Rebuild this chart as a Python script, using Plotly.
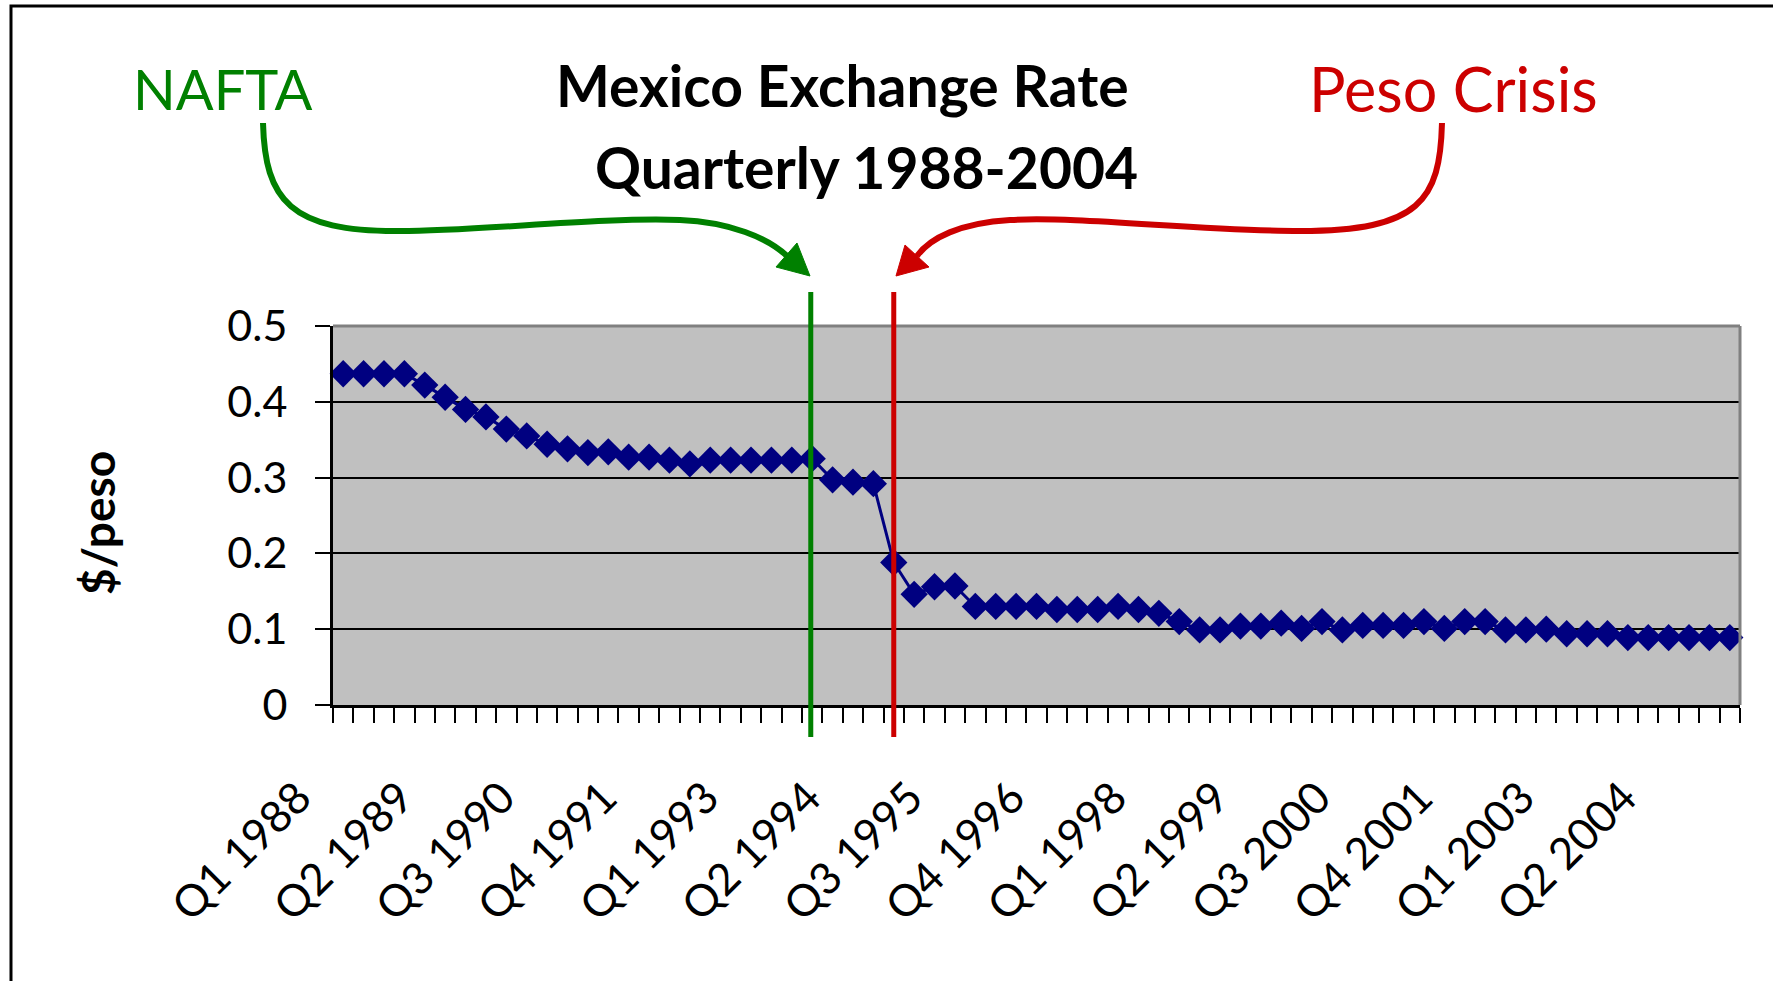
import plotly.graph_objects as go

# ---------------- data ----------------
QUARTERS = [f"Q{q} {y}" for y in range(1988, 2006) for q in range(1, 5)][:69]

RATES = [
    0.437, 0.437, 0.437, 0.437, 0.422, 0.406, 0.390, 0.380, 0.364, 0.355,
    0.344, 0.338, 0.333, 0.334, 0.327, 0.327, 0.323, 0.318, 0.323, 0.323,
    0.323, 0.323, 0.323, 0.325, 0.297, 0.294, 0.292, 0.188, 0.146, 0.156,
    0.157, 0.130, 0.130, 0.130, 0.130, 0.126, 0.126, 0.126, 0.130, 0.126,
    0.121, 0.110, 0.099, 0.099, 0.104, 0.104, 0.108, 0.101, 0.110, 0.099,
    0.105, 0.105, 0.105, 0.110, 0.101, 0.110, 0.110, 0.099, 0.099, 0.100,
    0.094, 0.094, 0.094, 0.089, 0.089, 0.089, 0.089, 0.089, 0.089,
]

TICK_LABELS = ["Q1 1988", "Q2 1989", "Q3 1990", "Q4 1991", "Q1 1993", "Q2 1994",
               "Q3 1995", "Q4 1996", "Q1 1998", "Q2 1999", "Q3 2000", "Q4 2001",
               "Q1 2003", "Q2 2004"]

NAFTA_Q = "Q4 1993"
CRISIS_Q = "Q4 1994"

# ---------------- layout geometry (pixels) ----------------
W, H = 1773, 981
PL, PR, PT, PB = 333, 1740, 326, 705


def fx(p):
    return (p - PL) / (PR - PL)


def fy(p):
    return (PB - p) / (PB - PT)


FONT = "Lato"
NAVY = "#000080"
GREEN = "#008000"
RED = "#CC0000"

ticktext = [q if q in TICK_LABELS else "" for q in QUARTERS]

fig = go.Figure()
fig.add_trace(go.Scatter(
    x=QUARTERS, y=RATES, mode="lines+markers",
    line=dict(color=NAVY, width=3),
    marker=dict(symbol="diamond", size=21, color=NAVY),
    showlegend=False, cliponaxis=False,
))

shapes = []
# plot-area top and right border (gray)
shapes.append(dict(type="line", xref="paper", yref="paper", x0=0, x1=1, y0=1, y1=1,
                   line=dict(color="#808080", width=3), layer="above"))
shapes.append(dict(type="line", xref="paper", yref="paper", x0=1, x1=1, y0=0, y1=1,
                   line=dict(color="#808080", width=3), layer="above"))

# event lines
nafta_i = QUARTERS.index(NAFTA_Q) - 0.07
crisis_i = QUARTERS.index(CRISIS_Q)
for xi, col in ((nafta_i, GREEN), (crisis_i, RED)):
    shapes.append(dict(type="line", xref="x", yref="paper", x0=xi, x1=xi,
                       y0=fy(737), y1=fy(292), line=dict(color=col, width=5), layer="above"))


def path(points_cmds):
    out = []
    for cmd, pts in points_cmds:
        coords = " ".join(f"{fx(x):.5f},{fy(y):.5f}" for x, y in pts)
        out.append(f"{cmd} {coords}")
    return " ".join(out)


green_curve = path([
    ("M", [(263, 123)]),
    ("C", [(265, 200), (290, 232), (400, 231)]),
    ("C", [(480, 231), (600, 217), (680, 220)]),
    ("C", [(730, 222), (768, 238), (787, 256)]),
])
red_curve = path([
    ("M", [(1442, 123)]),
    ("C", [(1440, 200), (1420, 231), (1300, 231)]),
    ("C", [(1200, 231), (1080, 216), (1010, 220)]),
    ("C", [(960, 223), (930, 238), (917, 256)]),
])
green_head = path([("M", [(810, 276)]), ("L", [(776, 267)]), ("L", [(797, 243)])]) + " Z"
red_head = path([("M", [(896, 276)]), ("L", [(905, 245)]), ("L", [(929, 267)])]) + " Z"

shapes.append(dict(type="path", xref="paper", yref="paper", path=green_curve,
                   line=dict(color=GREEN, width=6)))
shapes.append(dict(type="path", xref="paper", yref="paper", path=red_curve,
                   line=dict(color=RED, width=6)))
shapes.append(dict(type="path", xref="paper", yref="paper", path=green_head,
                   fillcolor=GREEN, line=dict(color=GREEN, width=1)))
shapes.append(dict(type="path", xref="paper", yref="paper", path=red_head,
                   fillcolor=RED, line=dict(color=RED, width=1)))

# outer frame (top and left visible)
frame = path([("M", [(11, 1000)]), ("L", [(11, 6)]), ("L", [(1800, 6)])])
shapes.append(dict(type="path", xref="paper", yref="paper", path=frame,
                   line=dict(color="black", width=3)))

annotations = [
    dict(text="<b>Mexico Exchange Rate</b>", x=fx(842), y=fy(85), xref="paper", yref="paper",
         xanchor="center", yanchor="middle", showarrow=False,
         font=dict(family=FONT, size=57, color="black")),
    dict(text="<b>Quarterly 1988-2004</b>", x=fx(866), y=fy(167), xref="paper", yref="paper",
         xanchor="center", yanchor="middle", showarrow=False,
         font=dict(family=FONT, size=57, color="black")),
    dict(text="NAFTA", x=fx(222), y=fy(89), xref="paper", yref="paper",
         xanchor="center", yanchor="middle", showarrow=False,
         font=dict(family=FONT, size=56, color=GREEN)),
    dict(text="Peso Crisis", x=fx(1453), y=fy(89), xref="paper", yref="paper",
         xanchor="center", yanchor="middle", showarrow=False,
         font=dict(family=FONT, size=61, color=RED)),
    dict(text="<b>$/peso</b>", x=fx(97), y=fy(523), xref="paper", yref="paper",
         xanchor="center", yanchor="middle", showarrow=False, textangle=-90,
         font=dict(family=FONT, size=46, color="black")),
]

fig.update_layout(
    width=W, height=H,
    margin=dict(l=PL, r=W - PR, t=PT, b=H - PB, pad=0),
    paper_bgcolor="white", plot_bgcolor="#C0C0C0",
    font=dict(family=FONT, color="black"),
    shapes=shapes, annotations=annotations,
)
fig.update_xaxes(
    type="category", categoryorder="array", categoryarray=QUARTERS,
    tickmode="array", tickvals=QUARTERS, ticktext=ticktext,
    tickson="boundaries", ticks="outside", ticklen=15, tickwidth=2, tickcolor="black",
    tickangle=-45, tickfont=dict(family=FONT, size=44, color="black"),
    ticklabelshift=-45, ticklabelstandoff=46,
    showline=True, linecolor="black", linewidth=3, showgrid=False, zeroline=False,
    range=[-0.5, len(QUARTERS) - 0.5],
)
fig.update_yaxes(
    range=[0, 0.5], tickmode="linear", tick0=0, dtick=0.1,
    ticks="outside", ticklen=15, tickwidth=2, tickcolor="black",
    tickfont=dict(family=FONT, size=43, color="black"),
    showline=True, linecolor="black", linewidth=3,
    showgrid=True, gridcolor="black", gridwidth=2, zeroline=False,
    ticklabelstandoff=19,
)

fig.write_html("out.html", config={"displayModeBar": False},
               post_script="document.body.style.margin='0';")
